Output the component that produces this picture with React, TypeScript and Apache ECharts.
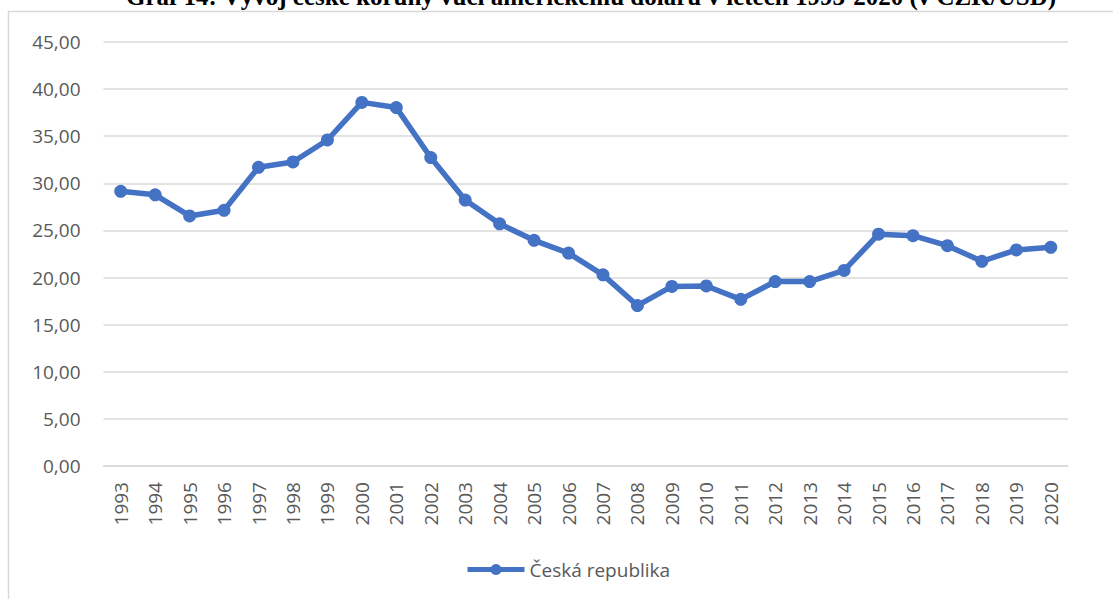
import React, { useEffect, useRef } from "react";
import * as echarts from "echarts";

const years: string[] = [
  "1993", "1994", "1995", "1996", "1997", "1998", "1999", "2000", "2001", "2002",
  "2003", "2004", "2005", "2006", "2007", "2008", "2009", "2010", "2011", "2012",
  "2013", "2014", "2015", "2016", "2017", "2018", "2019", "2020",
];

const czkUsd: number[] = [
  29.15, 28.78, 26.54, 27.14, 31.7, 32.27, 34.6, 38.59, 38.04, 32.74,
  28.23, 25.7, 23.95, 22.6, 20.29, 17.03, 19.06, 19.11, 17.69, 19.58,
  19.57, 20.76, 24.6, 24.44, 23.38, 21.73, 22.93, 23.21,
];

const seriesName = "Česká republika";
const titleText = "Graf 14: Vývoj české koruny vůči americkému dolaru v letech 1993-2020 (v CZK/USD)";

export default function App() {
  const ref = useRef<HTMLDivElement>(null);
  useEffect(() => {
    if (!ref.current) return;
    const chart = echarts.init(ref.current, null, { renderer: "svg" });
    const font = "'Open Sans', 'Noto Sans', sans-serif";
    chart.setOption({
      animation: false,
      backgroundColor: "#ffffff",
      graphic: [
        {
          type: "rect",
          shape: { x: 8.5, y: 11.5, width: 1200, height: 700 },
          style: { fill: "none", stroke: "#d9d9d9", lineWidth: 1.5 },
          silent: true,
        },
        {
          type: "text",
          x: 591,
          y: -4,
          style: {
            text: titleText,
            font: "bold 25px 'Liberation Serif', 'Times New Roman', serif",
            fill: "#000000",
            textAlign: "center",
            textVerticalAlign: "middle",
          },
        },
      ],
      grid: { left: 103.5, right: 45, top: 42, bottom: 133, containLabel: false },
      legend: {
        left: 460,
        top: 555,
        itemWidth: 57,
        itemHeight: 14,
        itemGap: 2,
        lineStyle: { width: 5 },
        textStyle: { color: "#595959", fontSize: 19, fontFamily: font },
        data: [seriesName],
      },
      xAxis: {
        type: "category",
        data: years,
        boundaryGap: true,
        axisLine: { show: true, lineStyle: { color: "#d9d9d9", width: 1.5 } },
        axisTick: { show: false },
        axisLabel: {
          rotate: 90,
          margin: 16,
          color: "#595959",
          fontSize: 19,
          fontFamily: font,
          interval: 0,
        },
      },
      yAxis: {
        type: "value",
        min: 0,
        max: 45,
        interval: 5,
        axisLine: { show: false },
        axisTick: { show: false },
        splitLine: { lineStyle: { color: "#d9d9d9", width: 1.5 } },
        axisLabel: {
          margin: 23,
          color: "#595959",
          fontSize: 19,
          fontFamily: font,
          formatter: (v: number) => v.toFixed(2).replace(".", ","),
        },
      },
      series: [
        {
          name: seriesName,
          type: "line",
          data: czkUsd,
          symbol: "circle",
          symbolSize: 13,
          lineStyle: { color: "#4472C4", width: 5.5 },
          itemStyle: { color: "#4472C4" },
        },
      ],
    });
    return () => chart.dispose();
  }, []);
  return (
    <div
      ref={ref}
      style={{ position: "absolute", left: 0, top: 0, width: 1113, height: 599 }}
    />
  );
}
